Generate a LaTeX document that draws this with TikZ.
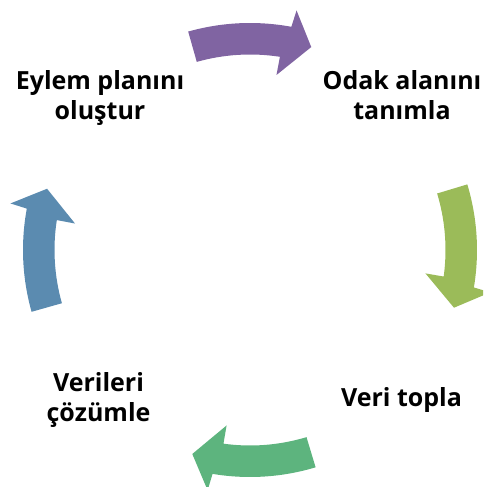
\documentclass[tikz,border=0pt]{standalone}
\usepackage{fontspec}
\setmainfont{Open Sans}
\definecolor{cpurple}{HTML}{8064A2}
\definecolor{cgreenyellow}{HTML}{9BBB59}
\definecolor{cgreen}{HTML}{5DB47E}
\definecolor{cblue}{HTML}{5B8BB0}
\newcommand\cycarrow[2]{%
  \fill[#2] ({#1+16.3}:227pt) arc[start angle={#1+16.3}, end angle={#1-10}, radius=227pt]
    -- ({#1-10.5}:244pt) -- ({#1-16.3}:212pt) -- ({#1-8.1}:177pt)
    -- ({#1-8.3}:195.5pt) arc[start angle={#1-8.3}, end angle={#1+16.3}, radius=195.5pt] -- cycle;}
\begin{document}
\begin{tikzpicture}[x=1pt,y=1pt,
  lbl/.style={font=\fontsize{25}{30}\selectfont\bfseries, text=black, align=center, inner sep=0pt, anchor=base}]
\useasboundingbox (0,0) rectangle (483,487);
\clip (0,0) rectangle (483,487);
\begin{scope}[shift={(250pt,237pt)}]
  \cycarrow{89.5}{cpurple}
  \cycarrow{0.5}{cgreenyellow}
  \cycarrow{-89.5}{cgreen}
  \cycarrow{179.5}{cblue}
\end{scope}
\node[lbl] (plan) at (100,367) {Eylem planını\\oluştur};
\node[lbl] (odak) at (402,367) {Odak alanını\\tanımla};
\node[lbl] (veri) at (401.5,80) {Veri topla};
\node[lbl] (coz) at (98.5,65) {Verileri\\çözümle};
\end{tikzpicture}
\end{document}
